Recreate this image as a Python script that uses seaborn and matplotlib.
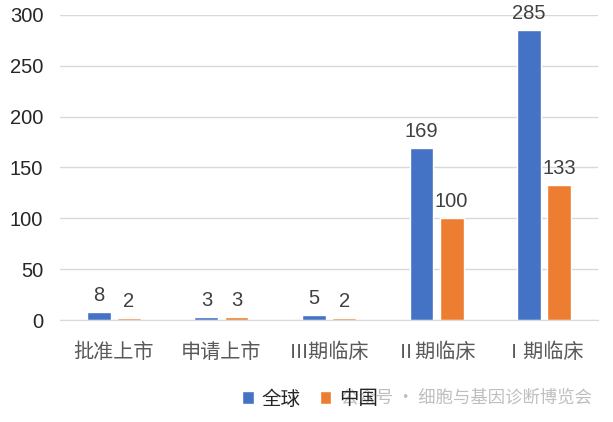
import matplotlib
matplotlib.use("Agg")
import matplotlib.pyplot as plt
import seaborn as sns
import pandas as pd

categories = ["批准上市", "申请上市", "Ⅲ期临床", "Ⅱ期临床", "Ⅰ期临床"]
global_vals = [8, 3, 5, 169, 285]
china_vals = [2, 3, 2, 100, 133]
series_names = ["全球", "中国"]
colors = ["#4472C4", "#ED7D31"]

df = pd.DataFrame({
    "cat": categories * 2,
    "val": global_vals + china_vals,
    "series": [series_names[0]] * 5 + [series_names[1]] * 5,
})

sns.set_style("white")
plt.rcParams['font.family'] = ['Liberation Sans', 'Noto Sans CJK SC', 'DejaVu Sans']
cjk = ['Noto Sans CJK SC', 'DejaVu Sans']

fig = plt.figure(figsize=(6.13, 4.22), dpi=100)
ax = fig.add_axes([60 / 613, 1 - 320 / 422, 538 / 613, 305 / 422])

sns.barplot(data=df, x="cat", y="val", hue="series", palette=colors,
            width=0.56, gap=0.21, ax=ax, legend=True, saturation=1)

ax.set_ylim(0, 300)
ax.set_yticks(range(0, 301, 50))
ax.yaxis.grid(True, color="#D9D9D9", linewidth=1)
ax.set_axisbelow(True)
for s in ax.spines.values():
    s.set_visible(False)
ax.spines["bottom"].set_visible(True)
ax.spines["bottom"].set_color("#D9D9D9")
ax.tick_params(axis="both", length=0)
ax.tick_params(axis="y", labelsize=14.5, labelcolor="#262626", pad=12)
ax.tick_params(axis="x", labelsize=14.5, labelcolor="#595959", pad=16)
for t in ax.get_xticklabels():
    t.set_family(cjk)
ax.set_xlabel("")
ax.set_ylabel("")

for cont in ax.containers:
    ax.bar_label(cont, padding=5, fontsize=14.5, color="#404040")

# watermark sits under the legend, as in the source image
fig.text(341 / 613, 1 - 397 / 422, "公众号 · 细胞与基因诊断博览会", fontsize=12.5,
         family=cjk, color="#BFBFBF", va="center", ha="left", zorder=0)

ax.legend_.remove()
handles, labels = ax.get_legend_handles_labels()
fig.legend(handles, labels, loc="center", bbox_to_anchor=(310 / 613, 1 - 399 / 422),
           ncol=2, frameon=False, prop={"family": cjk, "size": 14},
           handlelength=0.6, handleheight=0.6,
           handletextpad=0.4, columnspacing=1.0, labelcolor="#262626")

fig.savefig("out.png", dpi=100)
